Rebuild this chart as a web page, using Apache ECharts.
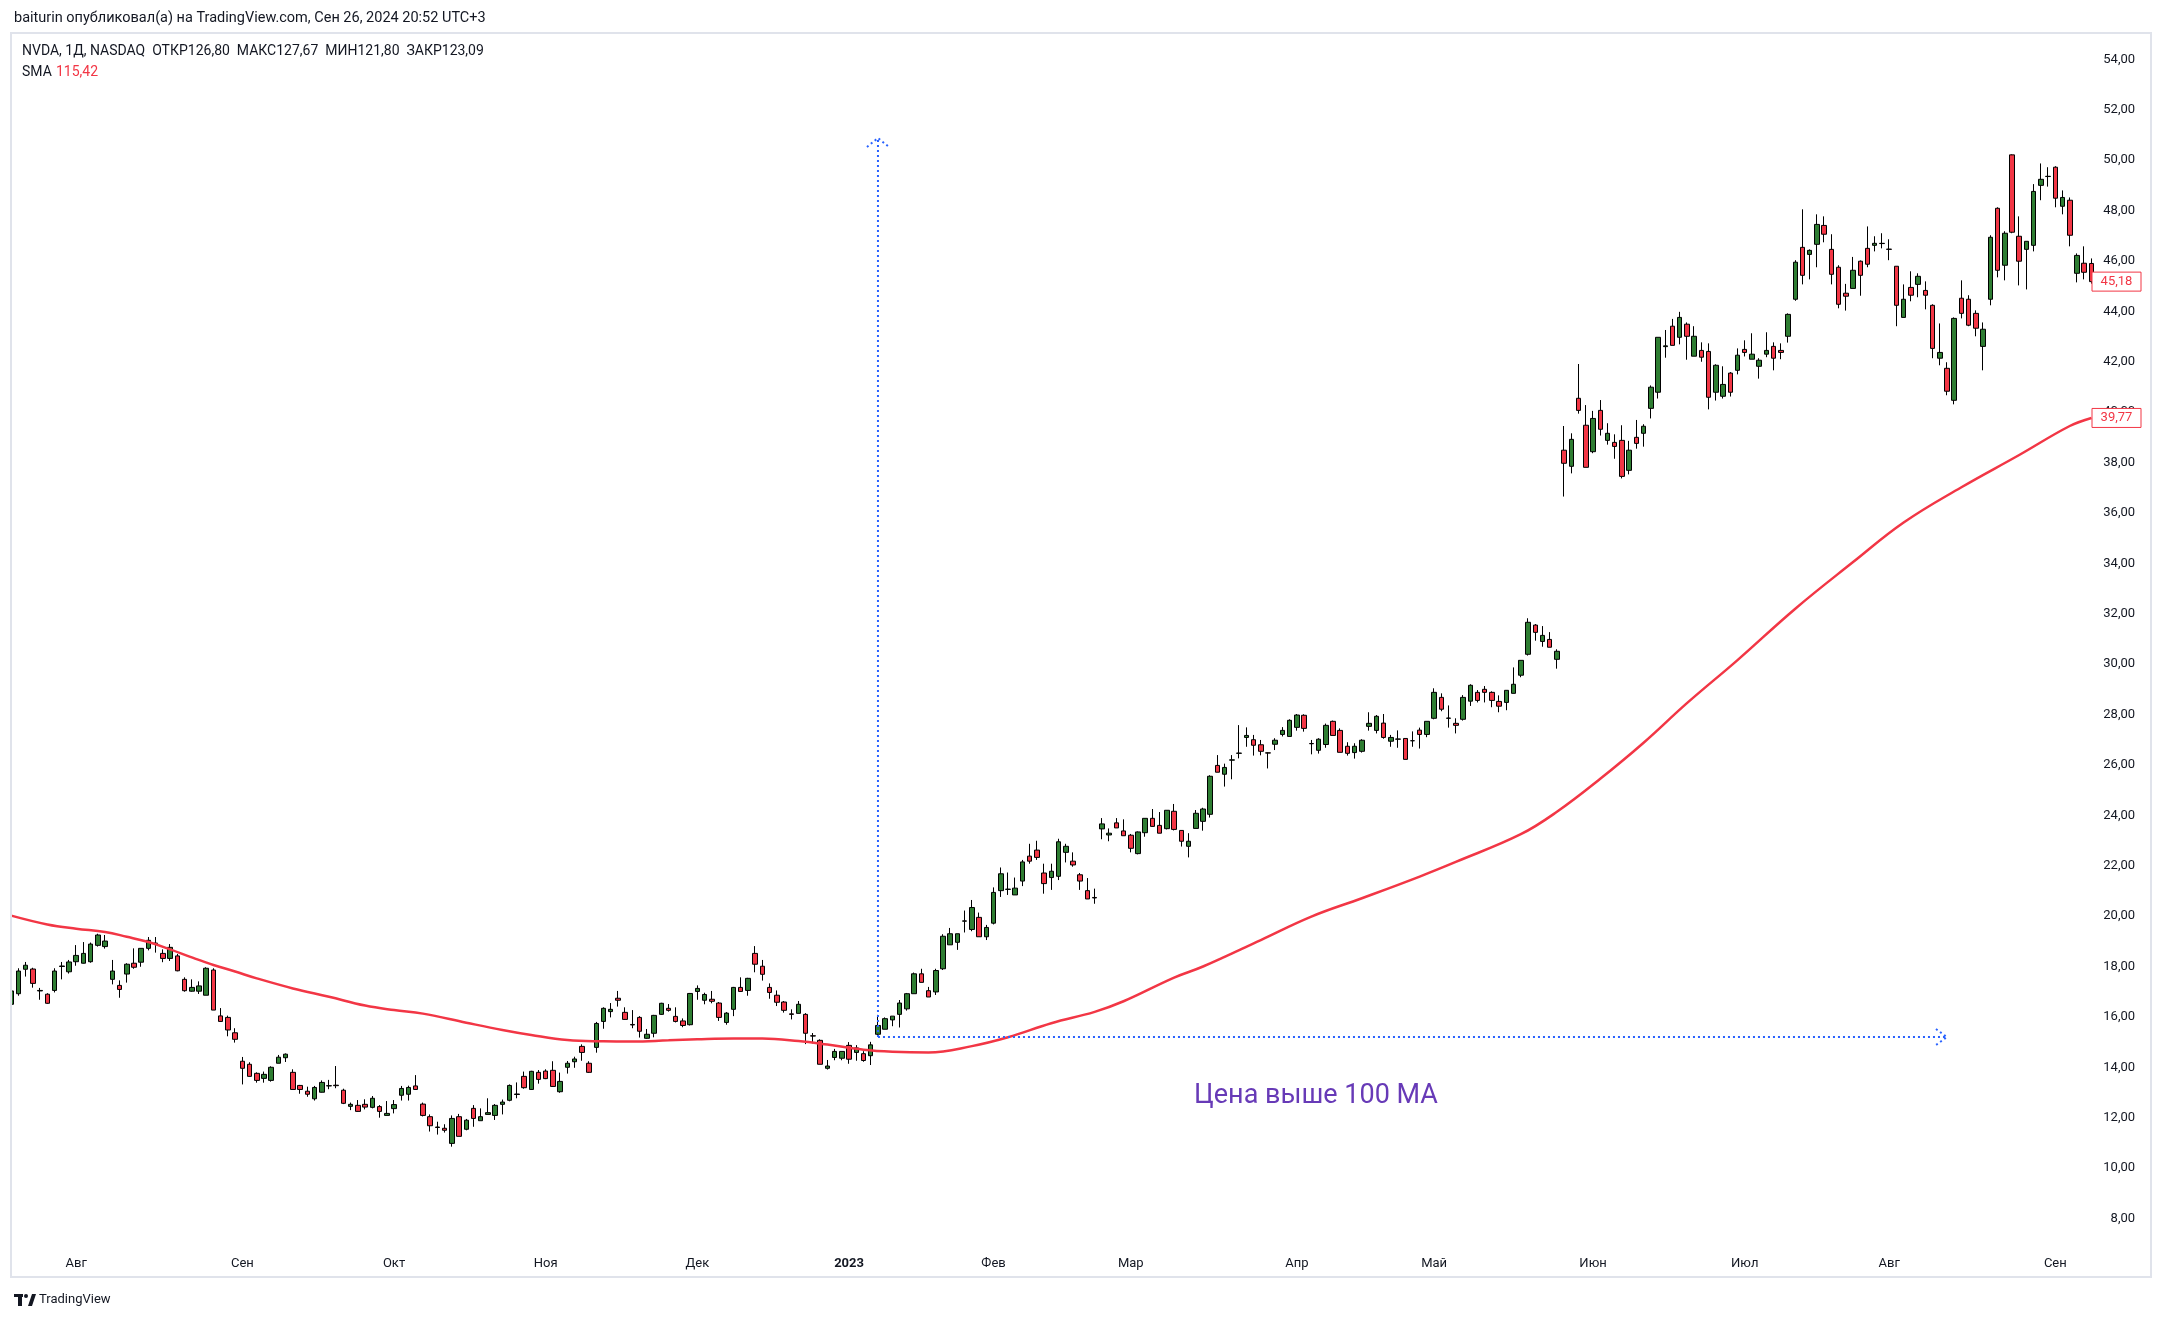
<!DOCTYPE html>
<html>
<head>
<meta charset="utf-8">
<script src="https://cdn.jsdelivr.net/npm/echarts/dist/echarts.min.js"></script>
<style>
  html, body { margin: 0; background: #fff; }
  #chart { width: 2165px; height: 1321px; }
</style>
</head>
<body>
<div id="chart"></div>
<script>
// NVDA 1D, split-adjusted prices
const startDate = '2022-07-19'
const holidays = ['2022-09-05', '2022-11-24', '2022-12-26', '2023-01-02', '2023-01-16',
  '2023-02-20', '2023-04-07', '2023-05-29', '2023-06-19', '2023-07-04']
const monthNames = ['Янв', 'Фев', 'Мар', 'Апр', 'Май', 'Июн', 'Июл', 'Авг', 'Сен', 'Окт', 'Ноя', 'Дек']

// [open, close, low, high]
const candles = [
  [16.50, 17.03, 16.45, 17.10], [16.92, 17.82, 16.84, 17.93], [17.89, 18.05, 17.60, 18.18], [17.90, 17.33, 17.16, 17.95],
  [17.03, 17.05, 16.68, 17.15], [16.90, 16.54, 16.52, 16.94], [17.05, 17.82, 16.97, 17.93], [18.00, 18.02, 17.49, 18.18],
  [17.79, 18.18, 17.72, 18.26], [18.19, 18.44, 18.03, 18.85], [18.13, 18.52, 18.12, 18.97], [18.19, 18.89, 18.15, 18.95],
  [18.84, 19.25, 18.79, 19.30], [18.79, 19.01, 18.71, 19.25], [17.49, 17.82, 17.29, 18.26], [17.25, 17.09, 16.76, 17.45],
  [17.70, 18.09, 17.36, 18.13], [18.13, 17.97, 17.91, 18.72], [18.17, 18.72, 17.99, 18.72], [18.72, 19.04, 18.64, 19.17],
  [18.93, 18.90, 18.55, 19.17], [18.52, 18.32, 18.17, 18.68], [18.32, 18.76, 18.22, 18.89], [18.42, 17.83, 17.81, 18.50],
  [17.49, 17.04, 17.00, 17.57], [17.02, 17.17, 17.00, 17.49], [17.02, 17.23, 16.91, 17.41], [16.86, 17.93, 16.86, 17.97],
  [17.86, 16.27, 16.27, 17.93], [16.04, 15.82, 15.81, 16.35], [15.98, 15.48, 15.23, 16.05], [15.37, 15.11, 14.98, 15.55],
  [14.24, 13.96, 13.32, 14.41], [14.12, 13.64, 13.63, 14.20], [13.76, 13.48, 13.39, 13.80], [13.56, 13.72, 13.39, 13.83],
  [13.48, 14.00, 13.43, 14.04], [14.16, 14.40, 14.16, 14.49], [14.38, 14.52, 14.21, 14.55], [13.80, 13.12, 13.12, 13.92],
  [13.28, 13.12, 12.95, 13.30], [13.05, 12.93, 12.83, 13.23], [12.75, 13.20, 12.68, 13.26], [13.01, 13.40, 13.00, 13.48],
  [13.26, 13.27, 13.13, 13.50], [13.29, 13.27, 13.17, 14.05], [13.09, 12.57, 12.54, 13.15], [12.45, 12.53, 12.30, 12.60],
  [12.49, 12.25, 12.24, 12.70], [12.53, 12.42, 12.33, 12.73], [12.41, 12.77, 12.37, 12.86], [12.44, 12.25, 12.00, 12.50],
  [12.09, 12.17, 12.09, 12.66], [12.36, 12.52, 12.17, 12.70], [12.89, 13.16, 12.68, 13.26], [12.93, 13.20, 12.68, 13.27],
  [13.26, 13.12, 13.10, 13.69], [12.54, 12.09, 12.05, 12.60], [12.04, 11.68, 11.45, 12.13], [11.63, 11.61, 11.33, 11.84],
  [11.58, 11.50, 11.41, 11.74], [10.98, 11.97, 10.85, 12.09], [12.04, 11.26, 11.26, 12.15], [11.54, 11.90, 11.50, 11.95],
  [12.37, 11.97, 11.64, 12.50], [11.88, 12.04, 11.88, 12.37], [12.13, 12.20, 12.13, 12.77], [12.09, 12.49, 11.91, 12.54],
  [12.53, 12.62, 12.13, 12.72], [12.69, 13.28, 12.65, 13.32], [12.92, 12.94, 12.77, 13.40], [13.64, 13.19, 13.15, 13.83],
  [13.12, 13.84, 13.10, 13.86], [13.80, 13.52, 13.35, 13.89], [13.85, 13.55, 13.53, 13.92], [13.88, 13.24, 13.22, 14.24],
  [13.03, 13.44, 12.99, 13.79], [14.00, 14.16, 13.75, 14.25], [14.22, 14.33, 13.98, 14.42], [14.83, 14.59, 14.26, 14.91],
  [14.16, 13.80, 13.78, 14.24], [14.79, 15.74, 14.58, 15.80], [15.82, 16.34, 15.53, 16.38], [16.21, 16.30, 15.98, 16.55],
  [16.74, 16.66, 16.41, 17.03], [16.18, 15.90, 15.88, 16.38], [15.70, 15.68, 15.55, 16.27], [15.98, 15.43, 15.18, 16.03],
  [15.15, 15.31, 15.13, 15.52], [15.35, 16.06, 15.19, 16.08], [16.10, 16.54, 16.08, 16.56], [16.34, 16.26, 16.21, 16.51],
  [16.02, 15.82, 15.78, 16.38], [15.84, 15.66, 15.59, 15.94], [15.69, 16.93, 15.66, 16.95], [17.01, 17.13, 16.68, 17.25],
  [16.66, 16.89, 16.50, 16.96], [16.70, 16.62, 16.54, 17.03], [16.55, 15.98, 15.84, 16.59], [15.78, 16.15, 15.69, 16.19],
  [16.30, 17.17, 16.03, 17.19], [17.17, 17.01, 17.00, 17.57], [17.05, 17.53, 16.84, 17.55], [18.52, 18.09, 17.77, 18.81],
  [18.01, 17.69, 17.44, 18.26], [17.17, 16.97, 16.72, 17.33], [16.86, 16.58, 16.43, 17.05], [16.59, 16.26, 16.17, 16.63],
  [16.12, 16.10, 15.90, 16.30], [16.14, 16.50, 16.14, 16.63], [16.10, 15.35, 14.92, 16.15], [15.25, 15.24, 14.95, 15.36],
  [15.07, 14.12, 14.12, 15.11], [13.96, 14.05, 13.91, 14.29], [14.39, 14.63, 14.28, 14.73], [14.36, 14.63, 14.28, 14.63],
  [14.87, 14.32, 14.14, 15.00], [14.59, 14.77, 14.26, 14.88], [14.54, 14.27, 14.22, 14.64], [14.46, 14.89, 14.09, 15.01],
  [15.31, 15.66, 15.24, 16.08], [15.51, 15.93, 15.51, 15.98], [15.88, 16.03, 15.63, 16.03], [16.10, 16.55, 15.58, 16.67],
  [16.32, 16.92, 16.25, 16.95], [16.92, 17.71, 16.92, 17.76], [17.71, 17.37, 17.37, 17.91], [17.04, 16.79, 16.79, 17.19],
  [16.99, 17.84, 16.87, 17.91], [17.91, 19.20, 17.86, 19.28], [18.86, 19.30, 18.86, 19.53], [18.96, 19.30, 18.66, 19.30],
  [19.80, 19.81, 19.35, 20.22], [19.47, 20.34, 19.40, 20.64], [19.95, 19.18, 19.18, 20.14], [19.18, 19.55, 19.05, 19.65],
  [19.72, 20.94, 19.67, 21.14], [21.01, 21.68, 20.76, 21.93], [21.06, 21.07, 20.84, 21.73], [20.84, 21.11, 20.84, 21.53],
  [21.39, 22.15, 21.19, 22.23], [22.38, 22.18, 22.08, 22.87], [22.62, 22.33, 22.23, 22.99], [21.71, 21.29, 20.89, 22.08],
  [21.53, 21.78, 21.04, 22.08], [21.58, 22.95, 21.43, 23.07], [22.53, 22.77, 22.13, 22.87], [22.18, 22.03, 21.96, 22.53],
  [21.64, 21.39, 21.04, 21.71], [21.01, 20.68, 20.68, 21.51], [20.74, 20.72, 20.49, 21.09], [23.46, 23.66, 23.05, 23.89],
  [23.22, 23.29, 22.97, 23.48], [23.70, 23.50, 23.50, 23.89], [23.38, 23.19, 23.19, 23.84], [23.21, 22.69, 22.53, 23.26],
  [22.48, 23.34, 22.45, 23.36], [23.31, 23.88, 23.15, 23.88], [23.88, 23.56, 23.54, 24.25], [23.60, 23.29, 23.29, 24.13],
  [23.47, 24.20, 23.44, 24.20], [24.16, 23.44, 23.40, 24.45], [23.40, 22.97, 22.76, 23.40], [22.77, 22.97, 22.33, 23.29],
  [23.48, 24.08, 23.48, 24.21], [23.76, 24.25, 23.39, 24.30], [24.04, 25.55, 23.91, 25.59], [25.98, 25.71, 25.71, 26.39],
  [25.63, 25.90, 25.14, 26.05], [26.19, 26.20, 25.43, 26.39], [26.46, 26.47, 26.26, 27.58], [27.09, 27.17, 26.72, 27.49],
  [27.00, 26.78, 26.37, 27.19], [26.80, 26.54, 26.38, 26.99], [26.48, 26.47, 25.86, 26.50], [26.82, 26.98, 26.59, 27.06],
  [27.21, 27.37, 27.13, 27.50], [27.13, 27.77, 27.13, 27.81], [27.49, 27.98, 27.36, 28.02], [27.97, 27.45, 27.32, 28.01],
  [26.85, 26.84, 26.42, 26.99], [26.58, 27.02, 26.45, 27.06], [26.81, 27.57, 26.68, 27.64], [27.73, 27.17, 27.17, 27.76],
  [27.37, 26.50, 26.50, 27.45], [26.74, 26.46, 26.37, 26.90], [26.49, 26.74, 26.25, 26.86], [26.54, 26.98, 26.49, 27.02],
  [27.53, 27.65, 27.36, 28.09], [27.37, 27.93, 27.25, 27.98], [27.66, 27.09, 27.04, 28.02], [26.94, 27.09, 26.72, 27.19],
  [27.03, 27.02, 26.68, 27.37], [27.05, 26.22, 26.22, 27.05], [26.96, 26.96, 26.72, 27.33], [27.38, 27.21, 26.65, 27.48],
  [27.21, 27.73, 27.10, 27.73], [27.85, 28.88, 27.81, 29.04], [28.68, 28.21, 28.13, 28.84], [27.85, 27.86, 27.48, 28.36],
  [27.65, 27.57, 27.25, 27.85], [27.81, 28.68, 27.76, 28.77], [28.53, 29.16, 28.34, 29.20], [28.88, 28.56, 28.48, 28.97],
  [29.00, 28.88, 28.48, 29.13], [28.88, 28.56, 28.29, 28.92], [28.52, 28.33, 28.09, 28.76], [28.48, 28.96, 28.17, 28.96],
  [28.84, 29.20, 28.84, 29.87], [29.56, 30.15, 29.48, 30.15], [30.39, 31.66, 30.34, 31.82], [31.55, 31.26, 30.93, 31.59],
  [30.90, 31.14, 30.69, 31.51], [30.98, 30.67, 30.67, 31.27], [30.19, 30.51, 29.82, 30.59], [38.49, 37.97, 36.65, 39.45],
  [37.85, 38.92, 37.57, 39.16], [40.55, 40.07, 39.94, 41.91], [39.48, 37.81, 37.81, 40.28], [38.43, 39.75, 38.37, 40.05],
  [40.07, 39.32, 39.07, 40.48], [38.88, 39.16, 38.71, 39.56], [38.80, 38.64, 38.15, 39.12], [38.88, 37.45, 37.37, 39.48],
  [37.69, 38.49, 37.53, 38.86], [39.00, 38.76, 38.55, 39.69], [39.16, 39.44, 38.63, 39.52], [40.15, 40.99, 39.75, 41.06],
  [40.79, 42.97, 40.54, 42.97], [42.60, 42.63, 42.16, 43.26], [43.41, 42.65, 42.65, 43.70], [42.97, 43.76, 42.69, 43.98],
  [43.49, 43.01, 42.08, 43.56], [42.22, 43.01, 42.22, 43.41], [42.45, 42.18, 42.00, 42.77], [42.41, 40.59, 40.11, 42.73],
  [40.79, 41.86, 40.46, 41.90], [40.63, 41.10, 40.54, 41.82], [41.55, 40.79, 40.62, 41.59], [41.66, 42.26, 41.50, 42.53],
  [42.49, 42.37, 42.21, 42.85], [42.10, 42.30, 42.10, 43.13], [41.82, 42.06, 41.33, 42.14], [42.30, 42.45, 42.18, 43.17],
  [42.61, 42.14, 41.66, 42.77], [42.45, 42.37, 42.10, 42.73], [43.01, 43.88, 42.76, 43.92], [44.48, 45.95, 44.42, 46.03],
  [46.54, 45.43, 45.07, 48.05], [46.26, 46.42, 45.27, 46.46], [46.66, 47.45, 45.75, 47.85], [47.41, 47.06, 46.74, 47.77],
  [46.46, 45.47, 45.07, 47.06], [45.75, 44.28, 44.12, 45.83], [44.72, 44.60, 44.03, 45.09], [44.91, 45.63, 44.91, 46.16],
  [45.99, 45.43, 44.62, 46.02], [46.50, 45.87, 45.75, 47.37], [46.62, 46.70, 46.38, 46.98], [46.69, 46.70, 46.50, 47.10],
  [46.47, 46.46, 46.03, 46.86], [45.79, 44.24, 43.41, 45.79], [43.76, 44.48, 43.76, 45.07], [44.95, 44.64, 44.40, 45.59],
  [45.07, 45.39, 44.56, 45.51], [44.83, 44.64, 44.08, 45.19], [44.24, 42.53, 42.14, 44.28], [42.14, 42.37, 41.86, 43.52],
  [41.74, 40.83, 40.67, 41.98], [40.47, 43.72, 40.31, 43.76], [44.52, 43.92, 43.72, 45.23], [44.48, 43.45, 43.41, 44.64],
  [43.92, 43.33, 43.01, 44.04], [42.61, 43.29, 41.66, 43.56], [44.48, 46.94, 44.24, 47.02], [48.09, 45.63, 45.35, 48.13],
  [45.83, 47.10, 45.23, 47.18], [50.21, 47.14, 47.10, 50.23], [46.98, 45.99, 45.03, 47.77], [46.46, 46.78, 44.87, 46.78],
  [46.62, 48.76, 46.38, 49.05], [49.00, 49.24, 48.41, 49.87], [49.35, 49.36, 48.95, 49.72], [49.72, 48.49, 48.13, 49.76],
  [48.17, 48.52, 47.85, 48.80], [48.41, 47.02, 46.58, 48.52], [45.51, 46.22, 45.15, 46.30], [45.91, 45.55, 45.27, 46.58],
  [45.90, 45.18, 45.10, 46.10]
]

// SMA(100) read at bar indexes
const smaAt = [0, 5, 9, 13, 16, 19, 22, 25, 28, 31, 34, 39, 44, 49, 53, 57, 63, 68, 72, 77, 82, 86, 91, 95, 100,
  104, 109, 113, 118, 122, 127, 133, 138, 144, 150, 154, 161, 165, 173, 180, 187, 195, 200, 209, 214, 220,
  226, 232, 239, 247, 255, 262, 270, 278, 285, 288]
const smaValues = [20.02, 19.67, 19.50, 19.37, 19.18, 18.97, 18.68, 18.36, 18.06, 17.80, 17.53, 17.13, 16.80, 16.45,
  16.27, 16.13, 15.77, 15.48, 15.28, 15.08, 15.03, 15.02, 15.07, 15.11, 15.14, 15.14, 15.04, 14.90, 14.70, 14.62,
  14.59, 14.84, 15.19, 15.75, 16.20, 16.62, 17.56, 18.0, 19.05, 19.98, 20.71, 21.57, 22.15, 23.25, 24.14, 25.45,
  26.88, 28.45, 30.16, 32.2, 34.05, 35.62, 37.02, 38.3, 39.45, 39.77]

const yTicks = { min: 8, max: 54, step: 2 }
const lastPrice = 45.18
const lastSma = 39.77
// drawing: arrows from bar 120 at 15.20 up to 50.88 and right to bar 268
const arrowBar = 120
const arrowEndBar = 268
const arrowPrice = 15.2
const arrowTopPrice = 50.88

const upColor = '#2e7d32'
const downColor = '#f23645'
const font = 'Roboto, "Liberation Sans", sans-serif'

function tradingDays(from, count) {
  const out = []
  const d = new Date(from + 'T00:00:00Z')
  while (out.length < count) {
    const wd = d.getUTCDay()
    const s = d.toISOString().slice(0, 10)
    if (wd !== 0 && wd !== 6 && !holidays.includes(s)) out.push(s)
    d.setUTCDate(d.getUTCDate() + 1)
  }
  return out
}
const dates = tradingDays(startDate, candles.length)

function monthLabel(i) {
  if (i === 0) return ''
  const m = dates[i].slice(0, 7)
  if (m === dates[i - 1].slice(0, 7)) return ''
  const mm = +m.slice(5) - 1
  return mm === 0 ? '{y|' + m.slice(0, 4) + '}' : monthNames[mm]
}

const step = 7.223
const gridLeft = 7.6
const gridTop = 59.37
const gridHeight = (yTicks.max - yTicks.min) * 25.198

const chart = echarts.init(document.getElementById('chart'))
chart.setOption({
  animation: false,
  backgroundColor: '#fff',
  grid: {
    left: gridLeft,
    top: gridTop,
    width: candles.length * step,
    height: gridHeight,
    containLabel: false,
    outerBoundsMode: 'none'
  },
  xAxis: {
    type: 'category',
    data: dates,
    boundaryGap: true,
    axisLine: { show: false },
    axisTick: { show: false },
    splitLine: { show: false },
    axisLabel: {
      interval: (i) => monthLabel(i) !== '',
      formatter: (v, i) => monthLabel(i),
      color: '#131722',
      fontSize: 13,
      fontFamily: font,
      margin: 39,
      rich: { y: { fontWeight: 'bold', fontSize: 13, fontFamily: font, color: '#131722' } }
    }
  },
  yAxis: {
    type: 'value',
    position: 'right',
    min: yTicks.min,
    max: yTicks.max,
    interval: yTicks.step,
    axisLine: { show: false },
    axisTick: { show: false },
    splitLine: { show: false },
    axisLabel: {
      formatter: (v) => v.toFixed(2).replace('.', ','),
      color: '#131722',
      fontSize: 13,
      fontFamily: font,
      align: 'right',
      margin: 40
    }
  },
  series: [
    {
      type: 'candlestick',
      data: candles,
      barWidth: 5,
      itemStyle: {
        color: upColor,
        color0: downColor,
        borderColor: '#000',
        borderColor0: '#000',
        borderWidth: 1
      }
    },
    {
      type: 'line',
      data: smaAt.map((i, k) => [i, smaValues[k]]),
      smooth: 0.4,
      symbol: 'none',
      lineStyle: { color: '#f23645', width: 2.5 },
      z: 5
    }
  ]
})

const px = (i, v) => chart.convertToPixel({ gridIndex: 0 }, [i, v])
const [ax, ay] = px(arrowBar, arrowPrice)
const topY = px(arrowBar, arrowTopPrice)[1]
const endX = px(arrowEndBar, arrowPrice)[0]
const lastY = px(0, lastPrice)[1]
const smaY = px(0, lastSma)[1]
const dotted = { stroke: '#2962ff', lineWidth: 2, lineDash: [2, 3], fill: null }

function priceBox(y, text) {
  return [
    { type: 'rect', z: 100, shape: { x: 2092, y: y - 9.5, width: 49, height: 19 },
      style: { fill: '#fff', stroke: '#f23645', lineWidth: 1 } },
    { type: 'text', z: 101, x: 2116.5, y: y,
      style: { text, fill: '#f23645', fontSize: 13, fontFamily: font, align: 'center', verticalAlign: 'middle' } }
  ]
}

chart.setOption({
  graphic: [
    { type: 'rect', z: 90, shape: { x: 0, y: 33, width: 10, height: 1244 }, style: { fill: '#fff' } },
    { type: 'rect', z: 91, shape: { x: 11, y: 33, width: 2140, height: 1244 },
      style: { fill: null, stroke: '#e0e3eb', lineWidth: 2 } },
    { type: 'text', z: 100, x: 14, y: 18,
      style: { text: 'baiturin опубликовал(а) на TradingView.com, Сен 26, 2024 20:52 UTC+3',
        fill: '#131722', fontSize: 14.5, fontFamily: font, verticalAlign: 'middle' } },
    { type: 'text', z: 100, x: 22, y: 51,
      style: { text: 'NVDA, 1Д, NASDAQ  ОТКР126,80  МАКС127,67  МИН121,80  ЗАКР123,09',
        fill: '#131722', fontSize: 14, fontFamily: font, verticalAlign: 'middle' } },
    { type: 'text', z: 100, x: 22, y: 72,
      style: { text: 'SMA', fill: '#131722', fontSize: 14, fontFamily: font, verticalAlign: 'middle' } },
    { type: 'text', z: 100, x: 56, y: 72,
      style: { text: '115,42', fill: '#f23645', fontSize: 14, fontFamily: font, verticalAlign: 'middle' } },
    { type: 'polyline', z: 100, shape: { points: [[ax, ay], [ax, topY]] }, style: dotted },
    { type: 'polyline', z: 100, shape: { points: [[ax - 11, topY + 9], [ax, topY], [ax + 11, topY + 9]] }, style: dotted },
    { type: 'polyline', z: 100, shape: { points: [[ax, ay], [endX, ay]] }, style: dotted },
    { type: 'polyline', z: 100, shape: { points: [[endX - 11, ay - 8], [endX, ay], [endX - 11, ay + 8]] }, style: dotted },
    { type: 'text', z: 100, x: 1194, y: 1096,
      style: { text: 'Цена выше 100 MA', fill: '#673ab7', fontSize: 27, fontFamily: font, verticalAlign: 'middle' } },
    ...priceBox(lastY, '45,18'),
    ...priceBox(smaY, '39,77'),
    { type: 'rect', z: 100, shape: { x: 14, y: 1294, width: 9, height: 3 }, style: { fill: '#131722' } },
    { type: 'rect', z: 100, shape: { x: 18, y: 1294, width: 4, height: 12 }, style: { fill: '#131722' } },
    { type: 'circle', z: 100, shape: { cx: 26, cy: 1296, r: 2 }, style: { fill: '#131722' } },
    { type: 'polygon', z: 100, shape: { points: [[28, 1306], [32, 1294], [36, 1294], [32, 1306]] }, style: { fill: '#131722' } },
    { type: 'text', z: 100, x: 39, y: 1300,
      style: { text: 'TradingView', fill: '#131722', fontSize: 13, fontFamily: font, verticalAlign: 'middle' } }
  ]
})
</script>
</body>
</html>
